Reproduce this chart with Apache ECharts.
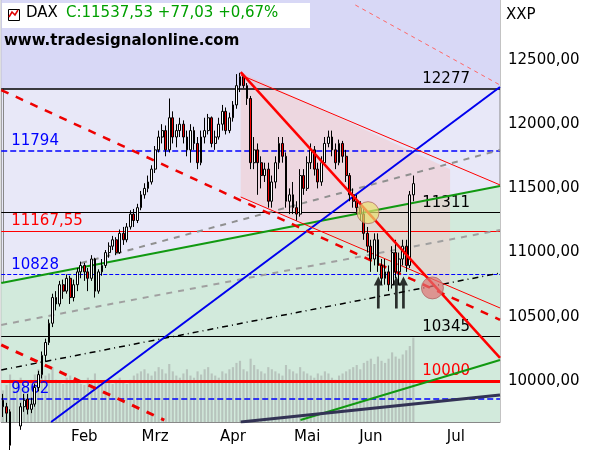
<!DOCTYPE html><html><head><meta charset="utf-8">
<script src="https://cdn.jsdelivr.net/npm/echarts@6/dist/echarts.min.js"></script>
<style>html,body{margin:0;padding:0;background:#fff}#c{width:595px;height:450px}</style></head><body><div id="c"></div>
<script>
const monthLabels = {23:'Feb',43:'Mrz',65:'Apr',86:'Mai',104:'Jun',128:'Jul'};
const dayCount = 141;
const yTicks = [10000,10500,11000,11500,12000,12500];
// [open, close, low, high]
const candles = [
[9850,9800,9720,9900],[9800,9750,9680,9830],[9760,9500,9460,9780],[9500,9480,9420,9560],[9480,9650,9450,9680],
[9650,9800,9620,9830],[9800,9850,9760,9900],[9860,9780,9740,9900],[9780,9820,9750,9870],[9820,9950,9800,9980],
[9950,10050,9920,10080],[10050,10200,10020,10230],[10200,10300,10150,10330],[10300,10450,10280,10480],[10450,10650,10420,10680],
[10650,10600,10550,10700],[10600,10750,10580,10780],[10750,10700,10640,10790],[10700,10800,10680,10830],[10800,10650,10600,10820],
[10650,10750,10620,10790],[10750,10850,10700,10880],[10850,10900,10800,10930],[10900,10850,10780,10920],[10850,10800,10700,10880],
[10800,10950,10780,10980],[10950,10700,10650,10960],[10700,10850,10680,10870],[10850,10900,10820,10950],[10900,11000,10880,11020],
[11000,11050,10960,11080],[11050,11100,11020,11130],[11100,11000,10980,11120],[11000,11150,10990,11180],[11150,11100,11060,11200],
[11100,11200,11080,11230],[11200,11300,11180,11330],[11300,11250,11200,11340],[11250,11350,11230,11380],[11350,11450,11330,11480],
[11450,11500,11420,11540],[11500,11550,11470,11600],[11550,11650,11530,11680],[11650,11800,11620,11830],[11800,11900,11780,11950],
[11900,11950,11850,12000],[11950,11800,11750,11990],[11800,12050,11780,12200],[12050,11900,11850,12100],[11900,11950,11820,12000],
[11950,12000,11900,12050],[12000,11900,11850,12030],[11900,11800,11750,11950],[11800,11950,11700,12000],[11950,11850,11800,11980],
[11850,11700,11650,11900],[11700,11900,11680,11950],[11900,11950,11850,12050],[11950,12050,11920,12080],[12050,11850,11820,12060],
[11850,11900,11800,11950],[11900,12000,11880,12050],[12000,12100,11950,12150],[12100,11950,11920,12130],[11950,12050,11930,12090],
[12050,12150,12020,12180],[12150,12300,12120,12390],[12300,12370,12250,12400],[12370,12300,12280,12390],[12300,12200,12150,12320],
[12200,11700,11650,12220],[11700,11800,11650,11900],[11800,11700,11450,11850],[11700,11600,11500,11750],[11600,11650,11550,11700],
[11650,11400,11350,11700],[11400,11550,11350,11600],[11550,11700,11500,11750],[11700,11850,11650,11900],[11850,11750,11700,11900],
[11750,11400,11350,11780],[11400,11450,11300,11500],[11450,11350,11300,11550],[11350,11300,11250,11400],[11300,11600,11280,11650],
[11600,11500,11450,11650],[11500,11700,11480,11750],[11700,11800,11650,11850],[11800,11650,11600,11830],[11650,11550,11500,11700],
[11550,11700,11520,11750],[11700,11850,11680,11900],[11850,11900,11820,11950],[11900,11800,11750,11950],[11800,11700,11650,11850],
[11700,11850,11680,11880],[11850,11750,11700,11870],[11750,11600,11550,11800],[11600,11450,11400,11620],[11450,11400,11350,11500],
[11400,11350,11300,11450],[11350,11300,11250,11400],[11300,11150,11100,11350],[11150,11050,11000,11200],[11050,10950,10850,11100],
[10950,11100,10900,11150],[11100,10900,10850,11150],[10900,10800,10750,10950],[10800,10850,10750,10950],[10850,10750,10700,10900],
[10750,11000,10720,11050],[11000,10850,10800,11100],[10850,10950,10750,11000],[10950,11050,10900,11100],[11050,10900,10850,11100],
[10900,11450,10880,11480],[11450,11537,11400,11600]];
const volume = [30,35,45,40,38,42,36,33,40,45,50,48,44,46,52,40,38,36,42,44,40,38,36,35,42,40,46,38,36,40,
38,36,40,42,38,36,40,44,46,48,50,46,44,48,52,50,46,55,48,44,42,46,50,44,42,48,45,50,52,46,
44,42,48,46,50,52,56,58,50,48,60,54,50,48,46,52,50,48,46,44,54,50,48,46,52,48,46,44,42,46,
44,48,46,42,40,44,46,48,50,52,54,50,56,58,60,55,62,58,56,60,66,62,60,64,68,72,80];
// trend lines: [[dayIndex, price],[dayIndex, price]]
const greenLine = [[-0.5,10764],[140.5,11519]];
const blueLine = [[13.6,9681],[140.5,12290]];
const redThick = [[67.2,12406],[140.5,10180]];
const redThinUpper = [[67.2,12383],[140.5,11527]];
const redThinLower = [[67.2,11433],[140.5,10569]];
const redDashed = [[-0.5,12266],[140.5,10476]];
const redDashedLow = [[-0.5,10281],[45.6,9696]];
const redDashedTop = [[99.6,12928],[140.5,12305]];
const grayUpper = [[22.1,10919],[140.5,11799]];
const grayLower = [[-0.5,10437],[140.5,11176]];
const dashDot = [[-0.5,10086],[140.5,10841]];
const greenLow = [[84.1,9697],[140.5,10164]];
const navyLine = [[67.2,9681],[140.5,9891]];
const channelArea = [[67.2,12406],[126.4,11650],[126.4,10750],[67.2,11433]];
const topBand = [12277, 12967];
const circles = [[103.2,11311,'#e8e070'],[121.4,10725,'#e07070']];
const arrows = [[106.1,10690],[111.2,10690],[113.2,10690]];
const levels = [
 {v:12277,c:'#000',w:1.5,t:'solid',lab:'12277',pos:'end'},
 {v:11794,c:'#0000ff',w:1.5,t:'dashed',lab:'11794',pos:'start'},
 {v:11311,c:'#000',w:1,t:'solid',lab:'11311',pos:'end'},
 {v:11167.55,c:'#ff0000',w:1,t:'solid',lab:'11167,55',pos:'start'},
 {v:10828,c:'#0000ff',w:1,t:'dashed',lab:'10828',pos:'start'},
 {v:10345,c:'#000',w:1,t:'solid',lab:'10345',pos:'end'},
 {v:10000,c:'#ff0000',w:3,t:'solid',lab:'10000',pos:'end'},
 {v:9862,c:'#0000ff',w:1.5,t:'dashed',lab:'9862',pos:'start'}];

const cats = Array.from({length:dayCount},(_, i)=>String(i));
const chart = echarts.init(document.getElementById('c'));
const F = 'DejaVu Sans';
function seg(d,color,width,type,z){return {type:'line',xAxisIndex:1,yAxisIndex:0,data:d,symbol:'none',silent:true,z:z||5,
  lineStyle:{color:color,width:width,type:type||'solid'}};}
const series = [
 {type:'line',xAxisIndex:1,data:greenLine,symbol:'none',lineStyle:{width:0},areaStyle:{color:'#d2eadc',origin:'start',opacity:1},z:1,silent:true,
  markArea:{silent:true,itemStyle:{color:'#d8d8f6'},data:[[{yAxis:topBand[0]},{yAxis:topBand[1]}]]}},
 {type:'custom',xAxisIndex:1,yAxisIndex:0,z:2,silent:true,data:[0],renderItem:(p,api)=>({type:'polygon',
   shape:{points:channelArea.map(q=>api.coord(q))},style:{fill:'rgba(245,195,195,0.45)'}})},
 {type:'bar',xAxisIndex:0,yAxisIndex:1,data:volume,barWidth:'60%',itemStyle:{color:'rgba(150,150,150,0.45)'},z:3,silent:true},
 seg(grayUpper,'#909090',2,[6,6]), seg(grayLower,'#a0a0a0',2,[6,6]), seg(dashDot,'#000',1.5,[6,4,1,4]),
 seg(greenLine,'#119911',2), seg(greenLow,'#119911',2), seg(navyLine,'#333355',3),
 seg(blueLine,'#0000ee',2), seg(redThinUpper,'#ff0000',1), seg(redThinLower,'#ff0000',1),
 seg(redDashed,'#ee0000',2.5,[8,8]), seg(redDashedLow,'#ee0000',3,[8,8]), seg(redDashedTop,'#ff6666',1,[4,4]),
 {type:'line',xAxisIndex:1,data:[],symbol:'none',z:6,markLine:{symbol:'none',silent:true,
   data:levels.map(l=>({yAxis:l.v,lineStyle:{color:l.c,width:l.w,type:l.t},
     label:{show:true,formatter:l.lab,position:l.pos==='end'?'insideEndTop':'insideStartTop',
       color:l.c,fontFamily:F,fontSize:15,distance:l.pos==='end'?[30,2]:[10,2]}}))}},
 {type:'candlestick',xAxisIndex:0,yAxisIndex:0,data:candles.map(c=>[c[0],c[1],c[2],c[3]]),barWidth:'65%',z:8,
   itemStyle:{color:'#ffffff',color0:'#ee0000',borderColor:'#000',borderColor0:'#000',borderWidth:1}},
 seg(redThick,'#ff0000',2.5,'solid',9),
 {type:'scatter',xAxisIndex:1,z:10,data:circles.map(c=>({value:[c[0],c[1]],itemStyle:{color:c[2],opacity:0.7,borderColor:'#aa6060',borderWidth:1}})),symbolSize:22,silent:true},
 {type:'scatter',xAxisIndex:1,z:10,data:arrows,symbol:'path://M5,0 L10,9 L6.5,9 L6.5,32 L3.5,32 L3.5,9 L0,9 Z',symbolSize:[9,32],itemStyle:{color:'#000'},silent:true}
];
chart.setOption({
 animation:false,
 grid:{left:0,right:95,top:0,bottom:28,show:true,backgroundColor:'#e8e8f8',borderColor:'#888',borderWidth:1},
 xAxis:[{type:'category',data:cats,boundaryGap:true,axisTick:{show:false},axisLine:{lineStyle:{color:'#888'}},
   axisLabel:{interval:0,formatter:(v,i)=>monthLabels[i]||'',fontFamily:F,fontSize:15,color:'#000',margin:8},splitLine:{show:false}},
  {type:'value',min:-0.5,max:140.5,show:false}],
 yAxis:[{type:'value',position:'right',min:9681,max:12967,splitLine:{show:false},axisLine:{show:true,lineStyle:{color:'#888'}},
   axisTick:{show:false},axisLabel:{customValues:yTicks,formatter:v=>v+',00',fontFamily:F,fontSize:15,color:'#000',margin:8}},
  {type:'value',min:0,max:400,show:false}],
 series:series,
 graphic:[
  {type:'rect',left:2,top:3,z:101,shape:{width:308,height:25},style:{fill:'#fff'}},
  {type:'rect',left:8,top:9,z:102,shape:{width:11,height:11},style:{fill:'#fff',stroke:'#000',lineWidth:1}},
  {type:'polyline',z:103,shape:{points:[[9,17],[12,12],[15,15],[18,10]]},style:{stroke:'#e00000',lineWidth:1.5,fill:null}},
  {type:'text',left:26,top:6,z:102,style:{text:'DAX',font:'15px DejaVu Sans',fill:'#000'}},
  {type:'text',left:66,top:6,z:102,style:{text:'C:11537,53 +77,03 +0,67%',font:'15px DejaVu Sans',fill:'#00a000'}},
  {type:'text',left:4,top:34,z:102,style:{text:'www.tradesignalonline.com',font:'bold 15px DejaVu Sans',fill:'#000'}},
  {type:'text',left:506,top:8,z:102,style:{text:'XXP',font:'15px DejaVu Sans',fill:'#000'}}
 ]
});
</script></body></html>
